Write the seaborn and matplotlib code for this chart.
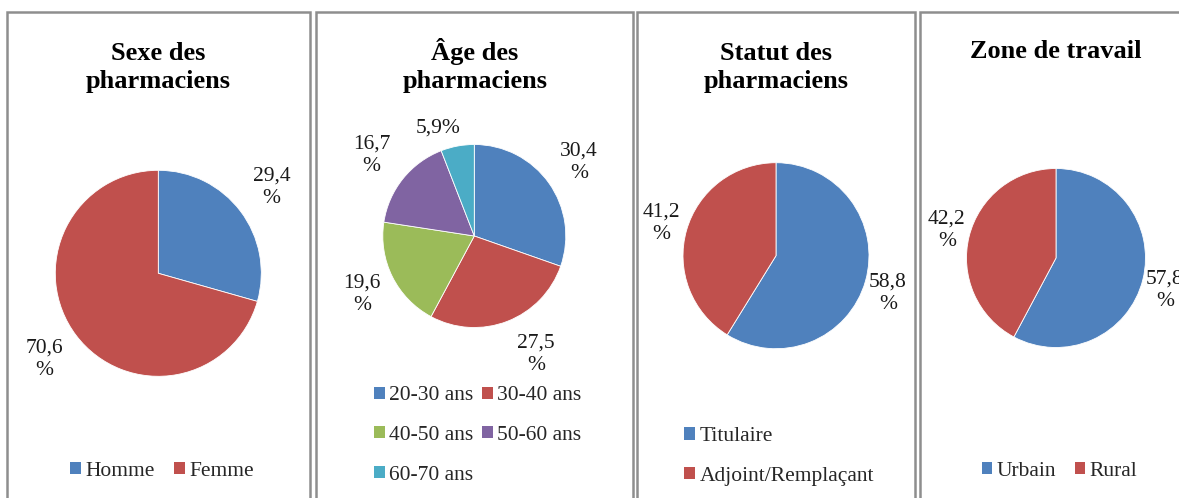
import matplotlib
matplotlib.use("Agg")
import matplotlib.pyplot as plt
from matplotlib.patches import Rectangle, Patch
import numpy as np
import seaborn as sns

# ---------------- data ----------------
sexe_title = "Sexe des\npharmaciens"
sexe_labels = ["Homme", "Femme"]
sexe_values = [29.4, 70.6]

age_title = "Âge des\npharmaciens"
age_labels = ["20-30 ans", "30-40 ans", "40-50 ans", "50-60 ans", "60-70 ans"]
age_values = [30.4, 27.5, 19.6, 16.7, 5.9]

statut_title = "Statut des\npharmaciens"
statut_labels = ["Titulaire", "Adjoint/Remplaçant"]
statut_values = [58.8, 41.2]

zone_title = "Zone de travail"
zone_labels = ["Urbain", "Rural"]
zone_values = [57.8, 42.2]

# ---------------- style ----------------
sns.set_style("white")
plt.rcParams["font.family"] = ["Liberation Serif", "DejaVu Serif"]
palette = sns.color_palette(["#4F81BD", "#C0504D", "#9BBB59", "#8064A2", "#4BACC6"])

W, H = 1179, 498
fig = plt.figure(figsize=(W / 100, H / 100), dpi=100)
fig.patch.set_facecolor("white")


def fx(x):
    return x / W


def fy(y):
    return 1 - y / H


TITLE_FS = 19
LABEL_FS = 15.5
LEGEND_FS = 15.5
TITLE_BASE = 58.3
TITLE_PITCH = 30


def fmt(v):
    s = f"{v:.1f}".replace(".", ",")
    return s + "%" if v < 10 else s + "\n%"


def panel(box, title, title_x, labels, values, cx, cy, r, label_pos,
          leg_center, ncol, leg_order=None, colspacing=0.9, labelspacing=0.75):
    x0, x1, y0 = box
    fig.patches.append(Rectangle((fx(x0), fy(H + 20)), fx(x1) - fx(x0), fy(y0) - fy(H + 20),
                                 transform=fig.transFigure, fill=False,
                                 edgecolor="#8e8e8e", linewidth=1.8, zorder=0))
    nlines = title.count("\n") + 1
    fig.text(fx(title_x), fy(TITLE_BASE + TITLE_PITCH * (nlines - 1)), title, ha="center",
             va="baseline", fontsize=TITLE_FS, fontweight="bold", linespacing=1.28,
             color="black")
    ax = fig.add_axes([fx(cx - r), fy(cy + r), fx(2 * r), fy(0) - fy(2 * r)])
    cols = palette[:len(values)]
    wedges, _ = ax.pie(values, colors=cols, startangle=90, counterclock=False,
                       radius=1, wedgeprops=dict(edgecolor="white", linewidth=0.6))
    for w in wedges:
        w.set_clip_on(False)
    ax.set_xlim(-1, 1)
    ax.set_ylim(-1, 1)
    ax.axis("off")
    for w, v, (dist, dang) in zip(wedges, values, label_pos):
        th = np.deg2rad((w.theta1 + w.theta2) / 2 + dang)
        ax.text(dist * np.cos(th), dist * np.sin(th), fmt(v), ha="center", va="center",
                fontsize=LABEL_FS, linespacing=1.25, clip_on=False, color="#1a1a1a")
    handles = [Patch(facecolor=c, edgecolor="none") for c in cols]
    labs = list(labels)
    if leg_order is not None:
        handles = [handles[i] for i in leg_order]
        labs = [labs[i] for i in leg_order]
    fig.legend(handles, labs, loc="center", bbox_to_anchor=(fx(leg_center[0]), fy(leg_center[1])),
               bbox_transform=fig.transFigure, ncol=ncol, frameon=False, fontsize=LEGEND_FS,
               handlelength=0.5, handleheight=0.5, handletextpad=0.2, columnspacing=colspacing,
               labelspacing=labelspacing, borderpad=0, borderaxespad=0)


panel((7, 310, 12.5), sexe_title, 158, sexe_labels, sexe_values,
      158.3, 273.3, 103, [(1.38, 0), (1.385, 0)], (162, 471), 2)
panel((316, 633, 12.5), age_title, 475, age_labels, age_values,
      474.3, 236, 91.5, [(1.40, 0), (1.456, 6.5), (1.38, 1), (1.43, 0.5), (1.247, 8)],
      (478, 435.5), 2, leg_order=[0, 2, 4, 1, 3], colspacing=0.4, labelspacing=0.96)
panel((636.7, 915, 12.5), statut_title, 776, statut_labels, statut_values,
      776, 255.7, 93, [(1.27, -2.5), (1.28, 0)], (779, 456.5), 1, labelspacing=0.96)
panel((920, 1200, 12.5), zone_title, 1056, zone_labels, zone_values,
      1056, 258, 89.5, [(1.27, -2.4), (1.257, 0)], (1059.5, 471), 2, colspacing=0.85)

fig.savefig("out.png", dpi=100, facecolor="white")
